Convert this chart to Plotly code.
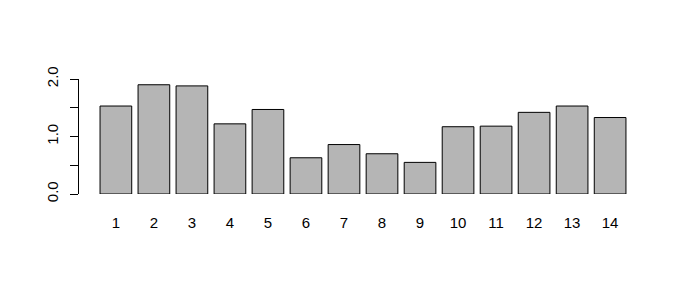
import plotly.graph_objects as go

categories = ["1", "2", "3", "4", "5", "6", "7", "8", "9", "10", "11", "12", "13", "14"]
values = [1.53, 1.90, 1.88, 1.22, 1.47, 0.63, 0.86, 0.70, 0.55, 1.17, 1.18, 1.42, 1.53, 1.33]
y_tick_vals = [0.0, 0.5, 1.0, 1.5, 2.0]
y_tick_text = ["0.0", "", "1.0", "", "2.0"]

# R barplot geometry: width 1, space 0.2
positions = [0.7 + 1.2 * i for i in range(len(values))]

fig = go.Figure(go.Bar(
    x=positions,
    y=values,
    width=1.0,
    marker=dict(color="#B5B5B5", line=dict(color="black", width=1)),
    hoverinfo="skip",
))

fig.update_layout(
    width=687, height=292,
    margin=dict(l=79, r=40, t=79, b=98),
    plot_bgcolor="white", paper_bgcolor="white",
    showlegend=False,
    font=dict(family="Liberation Sans, Arial, sans-serif", size=15, color="black"),
)
fig.update_xaxes(
    range=[-0.464, 17.464],
    tickvals=positions, ticktext=categories,
    showline=False, showgrid=False, zeroline=False, ticks="",
    ticklabelstandoff=18,
)
fig.update_yaxes(
    range=[0, 2],
    tickvals=y_tick_vals, ticktext=y_tick_text,
    showline=True, linecolor="black", linewidth=1,
    ticks="outside", ticklen=8, tickcolor="black", tickwidth=1,
    tickangle=-90,
    showgrid=False, zeroline=False,
    ticklabelstandoff=6,
)

fig.write_html("out.html")
